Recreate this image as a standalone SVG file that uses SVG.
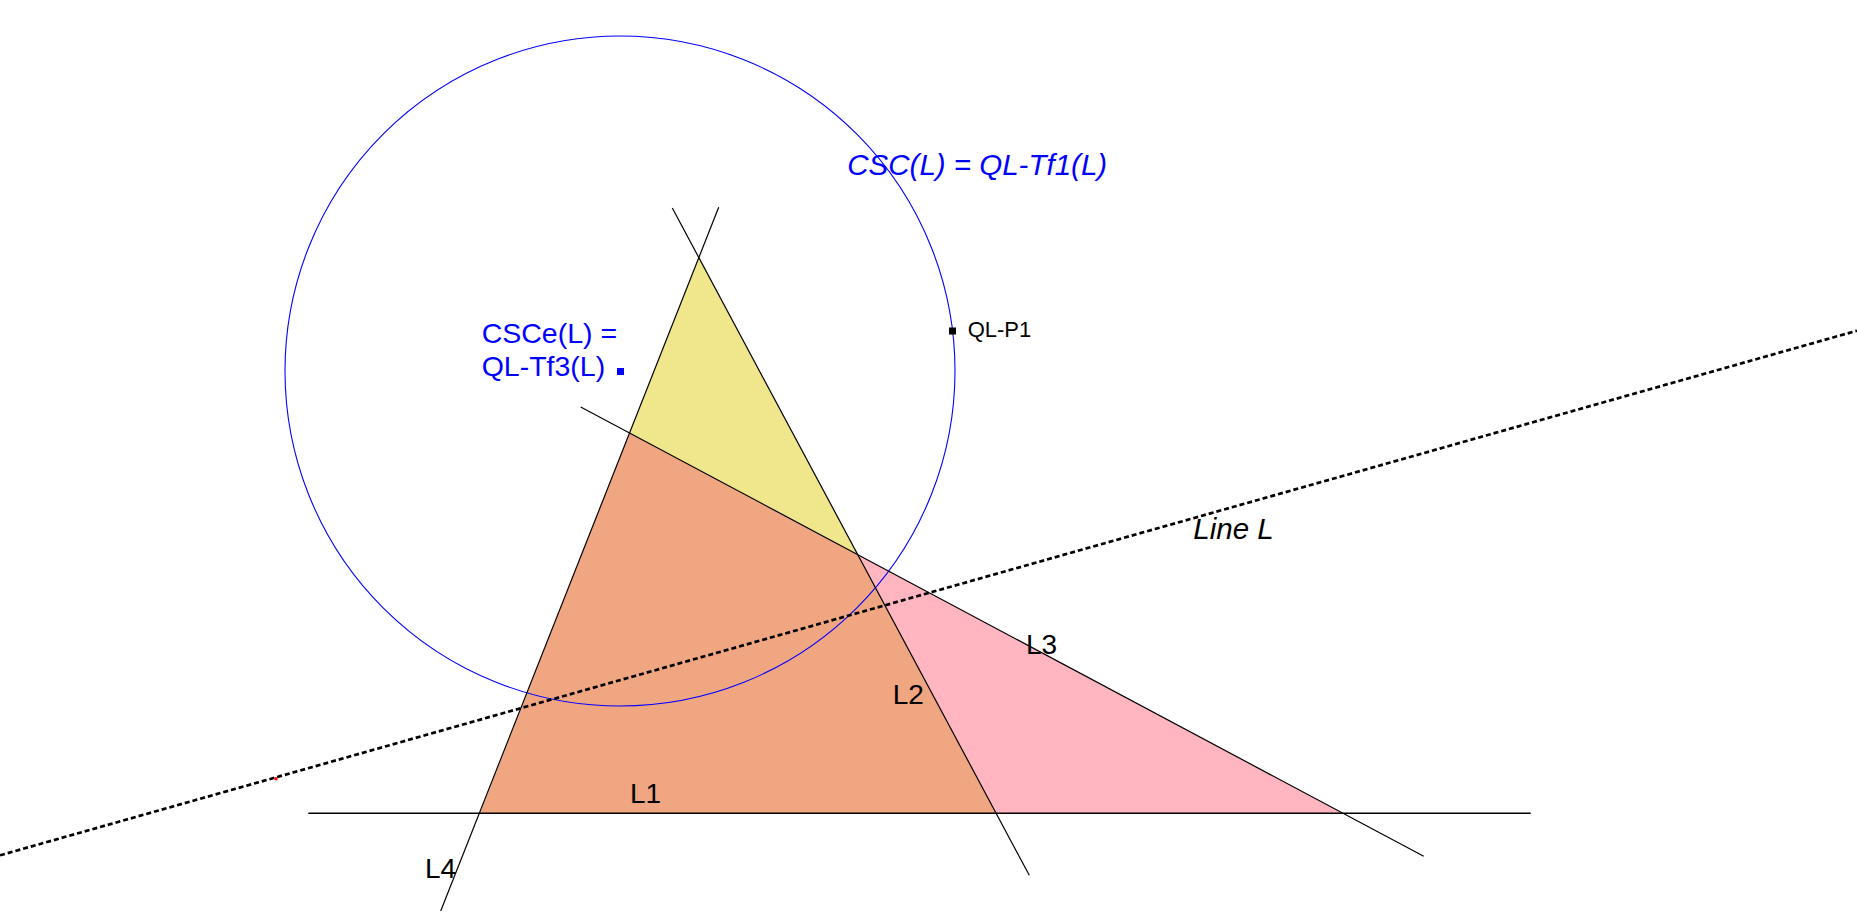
<svg xmlns="http://www.w3.org/2000/svg" width="1857" height="914" viewBox="0 0 1857 914">
<style>
text{font-family:"Liberation Sans",Arial,sans-serif;}
.ln{stroke:#000;stroke-width:1.2;fill:none;}
.lbl{font-size:28px;fill:#000;}
.blue{font-size:28.5px;fill:#0000ff;}
.it{font-style:italic;font-size:29.5px;}
</style>
<rect width="1857" height="914" fill="#fff"/>
<g id="regions">
<polygon id="yellow" points="699,256.7 629.3,433.3 858,555" fill="#f0e68c"/>
<polygon id="orange" points="629.3,433.3 858,555 996,813.3 480,813.3" fill="#f0a680"/>
<polygon id="pink" points="858,555 1342.7,813.3 996,813.3" fill="#ffb6c1"/>
</g>
<g id="circle-csc">
<circle cx="620" cy="371" r="335" fill="none" stroke="#0000ff" stroke-width="1.1"/>
</g>
<g id="connectors">
<line id="L1" class="ln" x1="308.3" y1="813.3" x2="1530.7" y2="813.3" style="stroke-width:1.6"/>
<line id="L2" class="ln" x1="672.3" y1="208" x2="1029.3" y2="875.3"/>
<line id="L3" class="ln" x1="580.7" y1="407" x2="1423.7" y2="856.3"/>
<line id="L4" class="ln" x1="718.7" y1="207.3" x2="440.7" y2="911"/>
<line id="lineL" x1="0" y1="855.3" x2="1857" y2="330.7" stroke="#000" stroke-width="2.7" stroke-dasharray="5 3"/>
</g>
<g id="points">
<rect id="redpt" x="274.5" y="777.2" width="3" height="3" fill="#ff0000"/>
<rect id="center" x="617" y="368" width="7" height="7" fill="#0000ff"/>
<rect id="qlp1" x="949" y="327.5" width="7" height="7" fill="#000"/>
</g>
<g id="labels">
<text class="blue it" x="847.3" y="175">CSC(L) = QL-Tf1(L)</text>
<text class="blue" x="481.7" y="342.7">CSCe(L) =</text>
<text class="blue" x="481.7" y="376">QL-Tf3(L)</text>
<text x="967.7" y="337.3" font-size="22" fill="#000">QL-P1</text>
<text class="lbl it" x="1193.3" y="539.3">Line L</text>
<text class="lbl" x="1026" y="654.3">L3</text>
<text class="lbl" x="892.7" y="704">L2</text>
<text class="lbl" x="630" y="803.3">L1</text>
<text class="lbl" x="425" y="878.3">L4</text>
</g>
</svg>
